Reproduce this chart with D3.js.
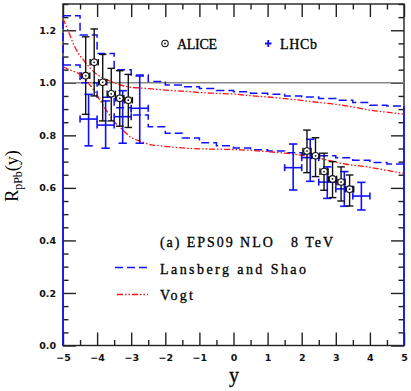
<!DOCTYPE html>
<html>
<head>
<meta charset="utf-8">
<script src="https://cdn.jsdelivr.net/npm/d3@7"></script>
<style>
	body { margin: 0; background: #fff; }
	svg { display: block; }
</style>
</head>
<body>
<svg width="411" height="391"></svg>
<script>
// ALICE J/psi R_pPb (backward + forward)
const aliceY = [-4.335, -4.085, -3.835, -3.585, -3.335, -3.085, 2.155, 2.405, 2.655, 2.905, 3.155, 3.405];
const aliceR = [1.027, 1.078, 1.002, 0.958, 0.941, 0.934, 0.740, 0.722, 0.662, 0.634, 0.622, 0.595];
const aliceHi = [1.175, 1.205, 1.108, 1.055, 1.046, 1.032, 0.820, 0.791, 0.732, 0.700, 0.680, 0.649];
const aliceLo = [0.880, 0.950, 0.855, 0.855, 0.835, 0.830, 0.658, 0.643, 0.591, 0.563, 0.550, 0.531];

// LHCb
const lhcbY = [-4.25, -3.75, -3.25, -2.75, 1.75, 2.25, 2.75, 3.25, 3.75];
const lhcbR = [0.862, 0.839, 0.871, 0.903, 0.677, 0.715, 0.622, 0.596, 0.569];
const lhcbHi = [0.956, 0.931, 0.970, 1.026, 0.767, 0.785, 0.680, 0.662, 0.621];
const lhcbLo = [0.760, 0.751, 0.770, 0.770, 0.592, 0.625, 0.560, 0.530, 0.516];

// Lansberg and Shao band (histogram, 0.5 wide bins)
const binEdges = [-5, -4.5, -4, -3.5, -3, -2.5, -2, -1.5, -1, -0.5, 0, 0.5, 1, 1.5, 2, 2.5, 3, 3.5, 4, 4.5, 5];
const lsUpper = [1.255, 1.182, 1.112, 1.050, 1.030, 1.005, 0.992, 0.985, 0.978, 0.971, 0.966, 0.960, 0.956, 0.950, 0.946, 0.940, 0.934, 0.925, 0.915, 0.912];
const lsLower = [1.068, 1.000, 0.945, 0.905, 0.877, 0.833, 0.808, 0.790, 0.772, 0.760, 0.752, 0.745, 0.740, 0.734, 0.728, 0.722, 0.715, 0.705, 0.697, 0.691];

// Vogt band
const vogtUpperY = [-5, -4.84, -4.7, -4.55, -4.4, -4.2, -4, -3.7, -3.4, -3.1, -2.5, -1.75, -1.25, -1, -0.5, 0, 0.5, 1, 1.5, 2, 2.5, 3, 3.5, 4, 4.5, 5];
const vogtUpperR = [1.245, 1.195, 1.150, 1.112, 1.087, 1.055, 1.032, 1.011, 0.995, 0.985, 0.978, 0.970, 0.966, 0.963, 0.960, 0.957, 0.951, 0.946, 0.940, 0.933, 0.925, 0.918, 0.908, 0.896, 0.888, 0.881];
const vogtLowerY = [-5, -4.8, -4.55, -4.4, -4.25, -4.1, -3.95, -3.8, -3.6, -3.45, -3.3, -3, -2.7, -2.45, -2.2, -1.95, -1.7, -1.25, -0.8, -0.3, 0.2, 1, 1.66, 2.5, 3.3, 3.86, 4.44, 5];
const vogtLowerR = [1.061, 1.049, 1.036, 1.023, 0.998, 0.973, 0.941, 0.909, 0.871, 0.845, 0.827, 0.792, 0.776, 0.765, 0.761, 0.757, 0.754, 0.750, 0.748, 0.747, 0.745, 0.738, 0.730, 0.713, 0.690, 0.681, 0.668, 0.655];

const xMajor = [-5, -4, -3, -2, -1, 0, 1, 2, 3, 4, 5];
const xMinor = [-4.5, -3.5, -2.5, -1.5, -0.5, 0.5, 1.5, 2.5, 3.5, 4.5];
const yMajor = [0, 0.2, 0.4, 0.6, 0.8, 1.0, 1.2];
const yMinor = [0.05, 0.1, 0.15, 0.25, 0.3, 0.35, 0.45, 0.5, 0.55, 0.65, 0.7, 0.75, 0.85, 0.9, 0.95, 1.05, 1.1, 1.15, 1.25, 1.3];

const plotLeft = 63;
const plotRight = 404;
const plotTop = 4;
const plotBottom = 345.5;

const blue = '#1010ff';
const red = '#ff1010';

const xScale = d3.scaleLinear().domain([-5, 5]).range([plotLeft, plotRight]);
const yScale = d3.scaleLinear().domain([0, 1.3]).range([plotBottom, plotTop]);

const svg = d3.select('svg');

// axes, ticks on all four sides pointing inward
const tickFont = (g) => g.selectAll('text')
	.style('font-family', 'DejaVu Sans')
	.style('font-weight', 'bold')
	.style('font-size', '9.5px')
	.attr('fill', '#111');

const cleanAxis = (g) => {
	g.select('.domain').remove();
	g.selectAll('.tick line').attr('stroke', '#222').attr('stroke-width', 1.4);
};

svg.append('g')
	.attr('transform', 'translate(0,' + plotBottom + ')')
	.call(d3.axisBottom(xScale).tickValues(xMajor).tickSize(-13).tickPadding(8.5).tickFormat(d3.format('d')))
	.call(cleanAxis)
	.call(tickFont);
svg.append('g')
	.attr('transform', 'translate(0,' + plotBottom + ')')
	.call(d3.axisBottom(xScale).tickValues(xMinor).tickSize(-5.5).tickFormat(''))
	.call(cleanAxis);
svg.append('g')
	.attr('transform', 'translate(0,' + plotTop + ')')
	.call(d3.axisTop(xScale).tickValues(xMajor).tickSize(-13).tickFormat(''))
	.call(cleanAxis);
svg.append('g')
	.attr('transform', 'translate(0,' + plotTop + ')')
	.call(d3.axisTop(xScale).tickValues(xMinor).tickSize(-5.5).tickFormat(''))
	.call(cleanAxis);

svg.append('g')
	.attr('transform', 'translate(' + plotLeft + ',0)')
	.call(d3.axisLeft(yScale).tickValues(yMajor).tickSize(-13).tickPadding(7).tickFormat(d3.format('.1f')))
	.call(cleanAxis)
	.call(tickFont);
svg.append('g')
	.attr('transform', 'translate(' + plotLeft + ',0)')
	.call(d3.axisLeft(yScale).tickValues(yMinor).tickSize(-5.5).tickFormat(''))
	.call(cleanAxis);
svg.append('g')
	.attr('transform', 'translate(' + plotRight + ',0)')
	.call(d3.axisRight(yScale).tickValues(yMajor).tickSize(-13).tickFormat(''))
	.call(cleanAxis);
svg.append('g')
	.attr('transform', 'translate(' + plotRight + ',0)')
	.call(d3.axisRight(yScale).tickValues(yMinor).tickSize(-5.5).tickFormat(''))
	.call(cleanAxis);

svg.append('rect')
	.attr('x', plotLeft)
	.attr('y', plotTop)
	.attr('width', plotRight - plotLeft)
	.attr('height', plotBottom - plotTop)
	.attr('fill', 'none')
	.attr('stroke', '#222')
	.attr('stroke-width', 1.4);

// R = 1 reference line
svg.append('line')
	.attr('x1', xScale(-5))
	.attr('x2', xScale(5))
	.attr('y1', yScale(1))
	.attr('y2', yScale(1))
	.attr('stroke', '#888')
	.attr('stroke-width', 1.4);

// Lansberg and Shao histograms
const stepPoints = (vals) => {
	const pts = [];
	vals.forEach((v, i) => {
		pts.push([binEdges[i], v]);
		pts.push([binEdges[i + 1], v]);
	});
	return pts;
};
const line = d3.line().x(d => xScale(d[0])).y(d => yScale(d[1]));

[lsUpper, lsLower].forEach(vals => {
	svg.append('path')
		.attr('d', line(stepPoints(vals)))
		.attr('fill', 'none')
		.attr('stroke', blue)
		.attr('stroke-width', 1.5)
		.attr('stroke-dasharray', '8,4');
});
// the histograms drop to zero at the edges
svg.append('path')
	.attr('d', line([[-5, 0], [-5, lsLower[0]]]))
	.attr('stroke', blue)
	.attr('stroke-width', 1.6);
svg.append('path')
	.attr('d', line([[-5, lsLower[0]], [-5, lsUpper[0]]]))
	.attr('stroke', blue)
	.attr('stroke-width', 1.6)
	.attr('stroke-dasharray', '8,4');
svg.append('path')
	.attr('d', line([[5, 0], [5, lsUpper[19]]]))
	.attr('stroke', blue)
	.attr('stroke-width', 1.6);

// Vogt curves
const smooth = d3.line().x(d => xScale(d[0])).y(d => yScale(d[1])).curve(d3.curveMonotoneX);
[[vogtUpperY, vogtUpperR], [vogtLowerY, vogtLowerR]].forEach(([xs, ys]) => {
	svg.append('path')
		.attr('d', smooth(xs.map((x, i) => [x, ys[i]])))
		.attr('fill', 'none')
		.attr('stroke', red)
		.attr('stroke-width', 1.3)
		.attr('stroke-dasharray', '6,2,1.5,2,1.5,2');
});

// LHCb points
const lhcb = svg.append('g')
	.attr('stroke', blue)
	.attr('stroke-width', 1.6)
	.selectAll('g')
	.data(lhcbY.map((y, i) => ({ y, r: lhcbR[i], hi: lhcbHi[i], lo: lhcbLo[i] })))
	.enter()
	.append('g');

lhcb.append('line')
	.attr('x1', d => xScale(d.y)).attr('x2', d => xScale(d.y))
	.attr('y1', d => yScale(d.hi)).attr('y2', d => yScale(d.lo));
lhcb.append('line')
	.attr('x1', d => xScale(d.y - 0.25)).attr('x2', d => xScale(d.y + 0.25))
	.attr('y1', d => yScale(d.r)).attr('y2', d => yScale(d.r));
[d => d.hi, d => d.lo].forEach(f => {
	lhcb.append('line')
		.attr('x1', d => xScale(d.y) - 4.2).attr('x2', d => xScale(d.y) + 4.2)
		.attr('y1', d => yScale(f(d))).attr('y2', d => yScale(f(d)));
});
[-0.25, 0.25].forEach(o => {
	lhcb.append('line')
		.attr('x1', d => xScale(d.y + o)).attr('x2', d => xScale(d.y + o))
		.attr('y1', d => yScale(d.r) - 3.5).attr('y2', d => yScale(d.r) + 3.5);
});

// ALICE points
const alice = svg.append('g')
	.attr('stroke', '#111')
	.attr('stroke-width', 1.4)
	.selectAll('g')
	.data(aliceY.map((y, i) => ({ y, r: aliceR[i], hi: aliceHi[i], lo: aliceLo[i] })))
	.enter()
	.append('g');

alice.append('line')
	.attr('x1', d => xScale(d.y)).attr('x2', d => xScale(d.y))
	.attr('y1', d => yScale(d.hi)).attr('y2', d => yScale(d.lo));
alice.append('line')
	.attr('x1', d => xScale(d.y - 0.12)).attr('x2', d => xScale(d.y + 0.12))
	.attr('y1', d => yScale(d.r)).attr('y2', d => yScale(d.r));
[d => d.hi, d => d.lo].forEach(f => {
	alice.append('line')
		.attr('x1', d => xScale(d.y) - 3.8).attr('x2', d => xScale(d.y) + 3.8)
		.attr('y1', d => yScale(f(d))).attr('y2', d => yScale(f(d)));
});
[-0.12, 0.12].forEach(o => {
	alice.append('line')
		.attr('x1', d => xScale(d.y + o)).attr('x2', d => xScale(d.y + o))
		.attr('y1', d => yScale(d.r) - 3.3).attr('y2', d => yScale(d.r) + 3.3);
});
alice.append('circle')
	.attr('cx', d => xScale(d.y))
	.attr('cy', d => yScale(d.r))
	.attr('r', 3.3)
	.attr('fill', '#fff')
	.attr('stroke-width', 1.1);
alice.append('circle')
	.attr('cx', d => xScale(d.y))
	.attr('cy', d => yScale(d.r))
	.attr('r', 0.9)
	.attr('fill', '#111')
	.attr('stroke', 'none');

// legends
const serif = 'Liberation Serif, Times New Roman, serif';

svg.append('circle').attr('cx', 165).attr('cy', 43.5).attr('r', 3.2)
	.attr('fill', 'none').attr('stroke', '#111').attr('stroke-width', 1.1);
svg.append('circle').attr('cx', 165).attr('cy', 43.5).attr('r', 0.9).attr('fill', '#111');
svg.append('path').attr('d', 'M265,43.5H271.5M268.25,40V47')
	.attr('stroke', blue).attr('stroke-width', 1.8);

const legendText = [
	{ text: 'ALICE', x: 177, y: 48.5, w: 40 },
	{ text: 'LHCb', x: 280, y: 48.5, w: 37 },
	{ text: '(a) EPS09 NLO\u00a0\u00a0\u00a08 TeV', x: 160, y: 247, w: 173 },
	{ text: 'Lansberg and Shao', x: 160, y: 274, w: 146 },
	{ text: 'Vogt', x: 160, y: 299.5, w: 33 }
];
svg.selectAll('.legend-text')
	.data(legendText)
	.enter()
	.append('text')
	.attr('class', 'legend-text')
	.attr('x', d => d.x)
	.attr('y', d => d.y)
	.attr('textLength', d => d.w)
	.attr('lengthAdjust', 'spacing')
	.style('font-family', serif)
	.style('font-size', '14px')
	.attr('fill', '#000')
	.attr('stroke', '#000')
	.attr('stroke-width', 0.3)
	.text(d => d.text);

svg.append('line').attr('x1', 115).attr('x2', 148).attr('y1', 267.5).attr('y2', 267.5)
	.attr('stroke', blue).attr('stroke-width', 1.5).attr('stroke-dasharray', '8,4');
svg.append('line').attr('x1', 117).attr('x2', 148).attr('y1', 294.5).attr('y2', 294.5)
	.attr('stroke', red).attr('stroke-width', 1.3).attr('stroke-dasharray', '6,2,1.5,2,1.5,2');

// axis titles
svg.append('text')
	.attr('x', 234)
	.attr('y', 382)
	.attr('text-anchor', 'middle')
	.style('font-family', serif)
	.style('font-size', '20px')
	.attr('fill', '#000')
	.attr('stroke', '#000')
	.attr('stroke-width', 0.3)
	.text('y');

const yTitle = svg.append('text')
	.attr('transform', 'translate(18,176) rotate(-90)')
	.attr('text-anchor', 'middle')
	.style('font-family', serif)
	.style('font-size', '18px')
	.attr('fill', '#000');
yTitle.append('tspan').text('R');
yTitle.append('tspan').attr('dy', 4).style('font-size', '12px').text('pPb');
yTitle.append('tspan').attr('dy', -4).text('(y)');
</script>
</body>
</html>
